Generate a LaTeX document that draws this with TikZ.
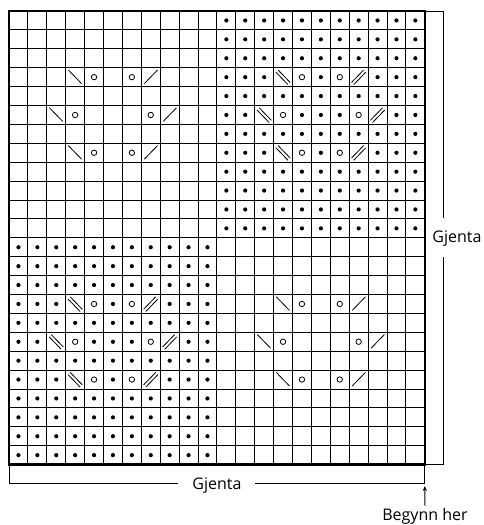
\documentclass[tikz,border=0pt]{standalone}
\usepackage{fontspec}
\setmainfont{Open Sans}
\usetikzlibrary{arrows.meta}
\def\cw{18.9}\def\ox{9}\def\oy{11}
\newcommand\symL[2]{\draw[sym] ({\ox+(#1+0.14)*\cw},{\oy+(#2+0.12)*\cw}) -- ({\ox+(#1+0.84)*\cw},{\oy+(#2+0.84)*\cw});}
\newcommand\symR[2]{\draw[sym] ({\ox+(#1+0.16)*\cw},{\oy+(#2+0.84)*\cw}) -- ({\ox+(#1+0.86)*\cw},{\oy+(#2+0.12)*\cw});}
\newcommand\dsymL[2]{%
  \draw[sym] ({\ox+(#1+0.18)*\cw+1.1},{\oy+(#2+0.18)*\cw-1.1}) -- ({\ox+(#1+0.82)*\cw+1.1},{\oy+(#2+0.84)*\cw-1.1});
  \draw[sym] ({\ox+(#1+0.18)*\cw-1.1},{\oy+(#2+0.18)*\cw+1.1}) -- ({\ox+(#1+0.82)*\cw-1.1},{\oy+(#2+0.84)*\cw+1.1});}
\newcommand\dsymR[2]{%
  \draw[sym] ({\ox+(#1+0.18)*\cw+1.1},{\oy+(#2+0.84)*\cw+1.1}) -- ({\ox+(#1+0.82)*\cw+1.1},{\oy+(#2+0.18)*\cw+1.1});
  \draw[sym] ({\ox+(#1+0.18)*\cw-1.1},{\oy+(#2+0.84)*\cw-1.1}) -- ({\ox+(#1+0.82)*\cw-1.1},{\oy+(#2+0.18)*\cw-1.1});}
\newcommand\yo[2]{\draw[sym] ({\ox+(#1+0.5)*\cw},{\oy+(#2+0.5)*\cw}) circle[radius=2.7pt];}
\newcommand\kdot[2]{\fill ({\ox+(#1+0.5)*\cw},{\oy+(#2+0.5)*\cw}) circle[radius=2.1pt];}
\begin{document}
\begin{tikzpicture}[x=1pt,y=-1pt,
  gridline/.style={line width=1pt,black},
  border/.style={line width=2.5pt,black},
  sym/.style={line width=0.8pt,black},
  brk/.style={line width=1pt,black},
  lbl/.style={font=\fontsize{16}{18}\selectfont,inner sep=0pt,text=black}]
\useasboundingbox (0,0) rectangle (484,525);
% grid
\foreach \i in {1,...,21} \draw[gridline] ({\ox+\i*\cw},\oy) -- ({\ox+\i*\cw},{\oy+24*\cw});
\foreach \j in {1,...,23} \draw[gridline] (\ox,{\oy+\j*\cw}) -- ({\ox+22*\cw},{\oy+\j*\cw});
% dots
\foreach \r in {0,...,11} {
  \foreach \k in {0,...,10} {
    \pgfmathtruncatemacro\sk{((\r==3||\r==7)&&(\k==3||\k==4||\k==6||\k==7))||(\r==5&&(\k==2||\k==3||\k==7||\k==8))}
    \ifnum\sk=0
      \kdot{11+\k}{\r}
      \kdot{\k}{12+\r}
    \fi
  }
}
% symbols
\foreach \bc/\br/\dbl in {0/0/0, 11/0/1, 0/12/1, 11/12/0} {
  \foreach \r/\a/\b/\e/\d in {3/3/4/6/7, 5/2/3/7/8, 7/3/4/6/7} {
    \yo{\bc+\b}{\br+\r}
    \yo{\bc+\e}{\br+\r}
    \ifnum\dbl=1
      \dsymL{\bc+\a}{\br+\r}
      \dsymR{\bc+\d}{\br+\r}
    \else
      \symL{\bc+\a}{\br+\r}
      \symR{\bc+\d}{\br+\r}
    \fi
  }
}
% border
\draw[border] (\ox,\oy) rectangle ({\ox+22*\cw},{\oy+24*\cw});
\coordinate (gTR) at ({\ox+22*\cw},\oy);
\coordinate (gBR) at ({\ox+22*\cw},{\oy+24*\cw});
\coordinate (gBL) at (\ox,{\oy+24*\cw});
% labels
\node[lbl,anchor=base] (gjR) at (457,242) {Gjenta};
\node[lbl,anchor=base] (gjB) at (217,489) {Gjenta};
\node[lbl,anchor=base] (start) at (425,520) {Begynn her};
% brackets
\draw[brk] (gTR) -- (443,\oy) -- (443,218);
\draw[brk] (443,257) -- (443,{\oy+24*\cw}) -- (gBR);
\draw[brk] (gBL) -- (\ox,483) -- (178,483);
\draw[brk] (255,483) -- (gBR |- 0,483) -- (gBR);
\draw[brk,-{Stealth[length=5pt,width=4pt]}] (start.north) ++(0,-2) -- (gBR |- 0,486);
\end{tikzpicture}
\end{document}
